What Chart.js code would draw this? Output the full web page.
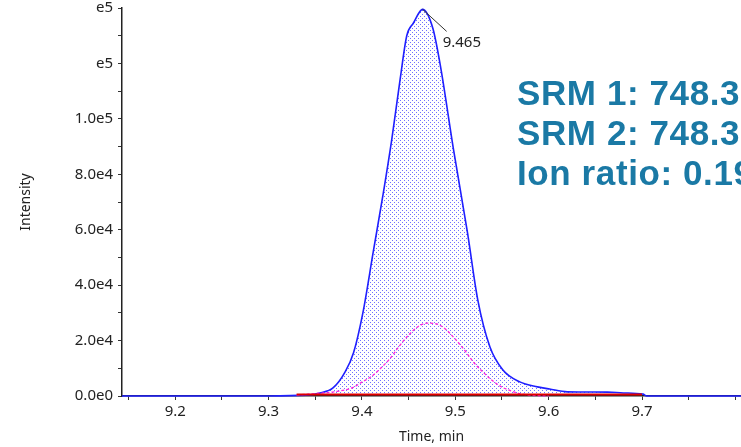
<!DOCTYPE html>
<html>
<head>
<meta charset="utf-8">
<script src="https://cdn.jsdelivr.net/npm/chart.js@4.4.0/dist/chart.umd.min.js"></script>
<style>
  html, body { margin: 0; padding: 0; background: #fff; }
  #wrap { position: relative; width: 741px; height: 447px; overflow: hidden; }
  #grafico { position: absolute; left: 0; top: 0; }
  .srm {
    position: absolute;
    left: 517px;
    top: 73px;
    font: bold 35px "Liberation Sans", sans-serif;
    letter-spacing: 0.6px;
    line-height: 40px;
    color: #1a79a5;
    white-space: nowrap;
  }
</style>
</head>
<body>
<div id="wrap">
  <canvas id="grafico" width="741" height="447"></canvas>
  <div class="srm">SRM 1: 748.33<br>SRM 2: 748.33<br>Ion ratio: 0.19</div>
</div>
<script>
// SRM 1 (azul, con relleno punteado)
const tiemposSrm1 = [9.143, 9.30, 9.34, 9.355, 9.369, 9.382, 9.391, 9.401, 9.412, 9.423, 9.432, 9.441, 9.448, 9.455, 9.465, 9.476, 9.484, 9.498, 9.513, 9.524, 9.537, 9.551, 9.569, 9.588, 9.601, 9.620, 9.663, 9.680, 9.701, 9.705, 9.806];
const intensidadSrm1 = [0, 0, 300, 1100, 2900, 8700, 15600, 30000, 51800, 73500, 92700, 114500, 130000, 134500, 139500, 132600, 119200, 89100, 59000, 34800, 17800, 9400, 5100, 3300, 2500, 1500, 1400, 1100, 700, 0, 0];

// SRM 2 (magenta, punteado)
const tiemposSrm2 = [9.33, 9.35, 9.37, 9.39, 9.40, 9.41, 9.42, 9.43, 9.44, 9.45, 9.46, 9.47, 9.48, 9.49, 9.50, 9.51, 9.52, 9.53, 9.54, 9.55, 9.56, 9.57, 9.58, 9.60];
const intensidadSrm2 = [300, 900, 1500, 3000, 5000, 7000, 10000, 13500, 18000, 22000, 25000, 26300, 26000, 24000, 20500, 16500, 12000, 8500, 5500, 3200, 1800, 800, 300, 0];

// traza roja en la línea base
const tiemposRojo = [9.33, 9.70];
const intensidadRojo = [500, 500];

const etiquetasX = ["9.2", "9.3", "9.4", "9.5", "9.6", "9.7"];
const valoresEtiquetaY = [0, 20000, 40000, 60000, 80000, 100000, 120000, 140000];
const etiquetasY = ["0.0e0", "2.0e4", "4.0e4", "6.0e4", "8.0e4", "1.0e5", "e5", "e5"];

function aPuntos(xs, ys) {
  return xs.map((x, i) => ({ x, y: ys[i] }));
}

function patronPuntos(color) {
  const c = document.createElement("canvas");
  c.width = 4;
  c.height = 4;
  const cx = c.getContext("2d");
  cx.fillStyle = color;
  cx.fillRect(0, 0, 1, 1);
  cx.fillRect(2, 2, 1, 1);
  const destino = document.getElementById("grafico").getContext("2d");
  return destino.createPattern(c, "repeat");
}

// pico de SRM 1 para la etiqueta
const indicePico = intensidadSrm1.indexOf(Math.max(...intensidadSrm1));

const etiquetaPico = {
  id: "etiquetaPico",
  afterDatasetsDraw(chart) {
    const { ctx, scales } = chart;
    const px = scales.x.getPixelForValue(tiemposSrm1[indicePico]);
    const py = scales.y.getPixelForValue(intensidadSrm1[indicePico]);
    ctx.save();
    ctx.strokeStyle = "#333";
    ctx.lineWidth = 1;
    ctx.beginPath();
    ctx.moveTo(px, py);
    ctx.lineTo(px + 24, py + 22);
    ctx.stroke();
    ctx.fillStyle = "#222";
    ctx.font = '15px "Noto Sans"';
    ctx.textBaseline = "middle";
    ctx.fillText(tiemposSrm1[indicePico].toFixed(3), px + 20, py + 33);
    ctx.restore();
  },
};

const fuenteTicks = { family: "Noto Sans", size: 15 };

new Chart(document.getElementById("grafico"), {
  type: "line",
  data: {
    datasets: [
      {
        label: "Rojo",
        data: aPuntos(tiemposRojo, intensidadRojo),
        borderColor: "#e00000",
        borderWidth: 2,
        pointRadius: 0,
        fill: false,
        clip: 6,
      },
      {
        label: "SRM 2",
        data: aPuntos(tiemposSrm2, intensidadSrm2),
        borderColor: "#ff22dd",
        borderWidth: 1.3,
        borderDash: [3, 2],
        pointRadius: 0,
        cubicInterpolationMode: "monotone",
        fill: false,
        clip: 6,
      },
      {
        label: "SRM 1",
        data: aPuntos(tiemposSrm1, intensidadSrm1),
        borderColor: "#1f1fff",
        borderWidth: 1.6,
        pointRadius: 0,
        cubicInterpolationMode: "monotone",
        fill: "origin",
        backgroundColor: patronPuntos("#7070ff"),
        clip: 6,
      },
    ],
  },
  options: {
    responsive: false,
    animation: false,
    layout: { padding: { top: 8, right: 0, bottom: 0, left: 0 } },
    plugins: {
      legend: { display: false },
      tooltip: { enabled: false },
    },
    scales: {
      x: {
        type: "linear",
        min: 9.143,
        max: 9.806,
        grid: { drawOnChartArea: false, drawTicks: true, tickLength: 4, color: "#333" },
        border: { display: true, color: "#222", width: 1.5 },
        ticks: {
          stepSize: 0.05,
          includeBounds: false,
          autoSkip: false,
          maxRotation: 0,
          padding: 3,
          color: "#222",
          font: fuenteTicks,
          callback: (v) => {
            const txt = (Math.round(v * 100) / 100).toFixed(1);
            return Math.round(v * 100) % 10 === 0 && etiquetasX.includes(txt) ? txt : "";
          },
        },
        title: {
          display: true,
          text: "Time, min",
          color: "#222",
          font: { family: "Noto Sans", size: 14 },
          padding: { top: 0, bottom: 2 },
        },
        afterFit: (escala) => {
          escala.height = 51;
          escala.paddingLeft = 0;
          escala.paddingRight = 0;
        },
      },
      y: {
        min: 0,
        max: 140000,
        grid: { drawOnChartArea: false, drawTicks: true, tickLength: 4, color: "#333" },
        border: { display: true, color: "#222", width: 1.5 },
        ticks: {
          stepSize: 10000,
          autoSkip: false,
          padding: 5,
          color: "#222",
          font: fuenteTicks,
          callback: (v) => {
            const i = valoresEtiquetaY.indexOf(Math.round(v));
            return i >= 0 ? etiquetasY[i] : "";
          },
        },
        title: {
          display: true,
          text: "Intensity",
          color: "#222",
          font: { family: "Noto Sans", size: 14 },
          padding: { top: 18, bottom: 0 },
        },
        afterFit: (escala) => {
          escala.width = 122;
          escala.paddingTop = 0;
          escala.paddingBottom = 0;
        },
      },
    },
  },
  plugins: [etiquetaPico],
});
</script>
</body>
</html>
